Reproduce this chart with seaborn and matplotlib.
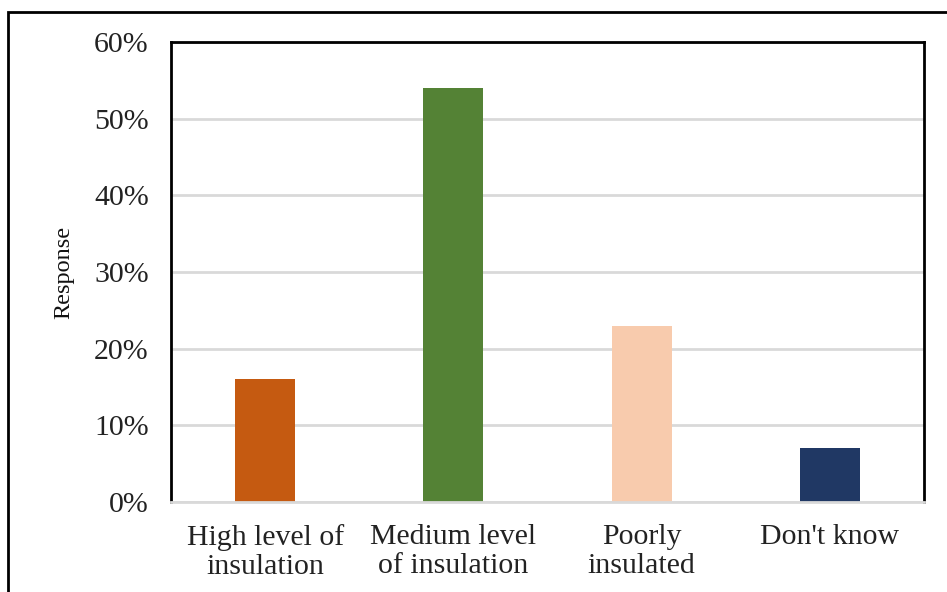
import matplotlib
matplotlib.use("Agg")
import matplotlib.pyplot as plt
import matplotlib.patches as mpatches
import seaborn as sns
import pandas as pd

categories = ["High level of\ninsulation", "Medium level\nof insulation", "Poorly\ninsulated", "Don't know"]
responses = [16, 54, 23, 7]
bar_colors = ["#C55A11", "#548235", "#F8CBAD", "#203864"]
yticks = [0, 10, 20, 30, 40, 50, 60]
ytick_labels = ["0%", "10%", "20%", "30%", "40%", "50%", "60%"]

sns.set_theme(style="white")
plt.rcParams["font.family"] = ["Liberation Serif", "DejaVu Serif"]

df = pd.DataFrame({"category": categories, "response": responses})

fig = plt.figure(figsize=(9.47, 5.92), dpi=100)
ax = fig.add_axes([171 / 947, 90 / 592, 753 / 947, 460 / 592])

sns.barplot(data=df, x="category", y="response", hue="category",
            palette=bar_colors, width=0.32, legend=False, ax=ax,
            saturation=1, edgecolor="none")

ax.set_ylim(0, 60)
ax.set_xlim(-0.5, 3.5)
ax.set_yticks(yticks)
ax.set_yticklabels(ytick_labels, fontsize=21.5, color="#222222")
ax.set_xticks(range(len(categories)))
ax.set_xticklabels(categories, fontsize=21.5, color="#222222", linespacing=1.15)
ax.tick_params(axis="y", length=0, pad=16)
ax.tick_params(axis="x", length=0, pad=16)
ax.set_xlabel("")
ax.set_ylabel("Response", fontsize=17.5, color="#111111", labelpad=14)

ax.yaxis.grid(True, color="#d9d9d9", linewidth=2)
ax.set_axisbelow(True)
for side in ["left", "top", "right"]:
    ax.spines[side].set_color("black")
    ax.spines[side].set_linewidth(2)
ax.spines["bottom"].set_color("#d9d9d9")
ax.spines["bottom"].set_linewidth(2)

# outer frame around the figure
fig.patches.append(mpatches.Rectangle((8 / 947, -0.1), 1.2, 1.1 - 12 / 592,
                                      transform=fig.transFigure, fill=False,
                                      edgecolor="black", linewidth=2))

fig.savefig("out.png", dpi=100, facecolor="white")
